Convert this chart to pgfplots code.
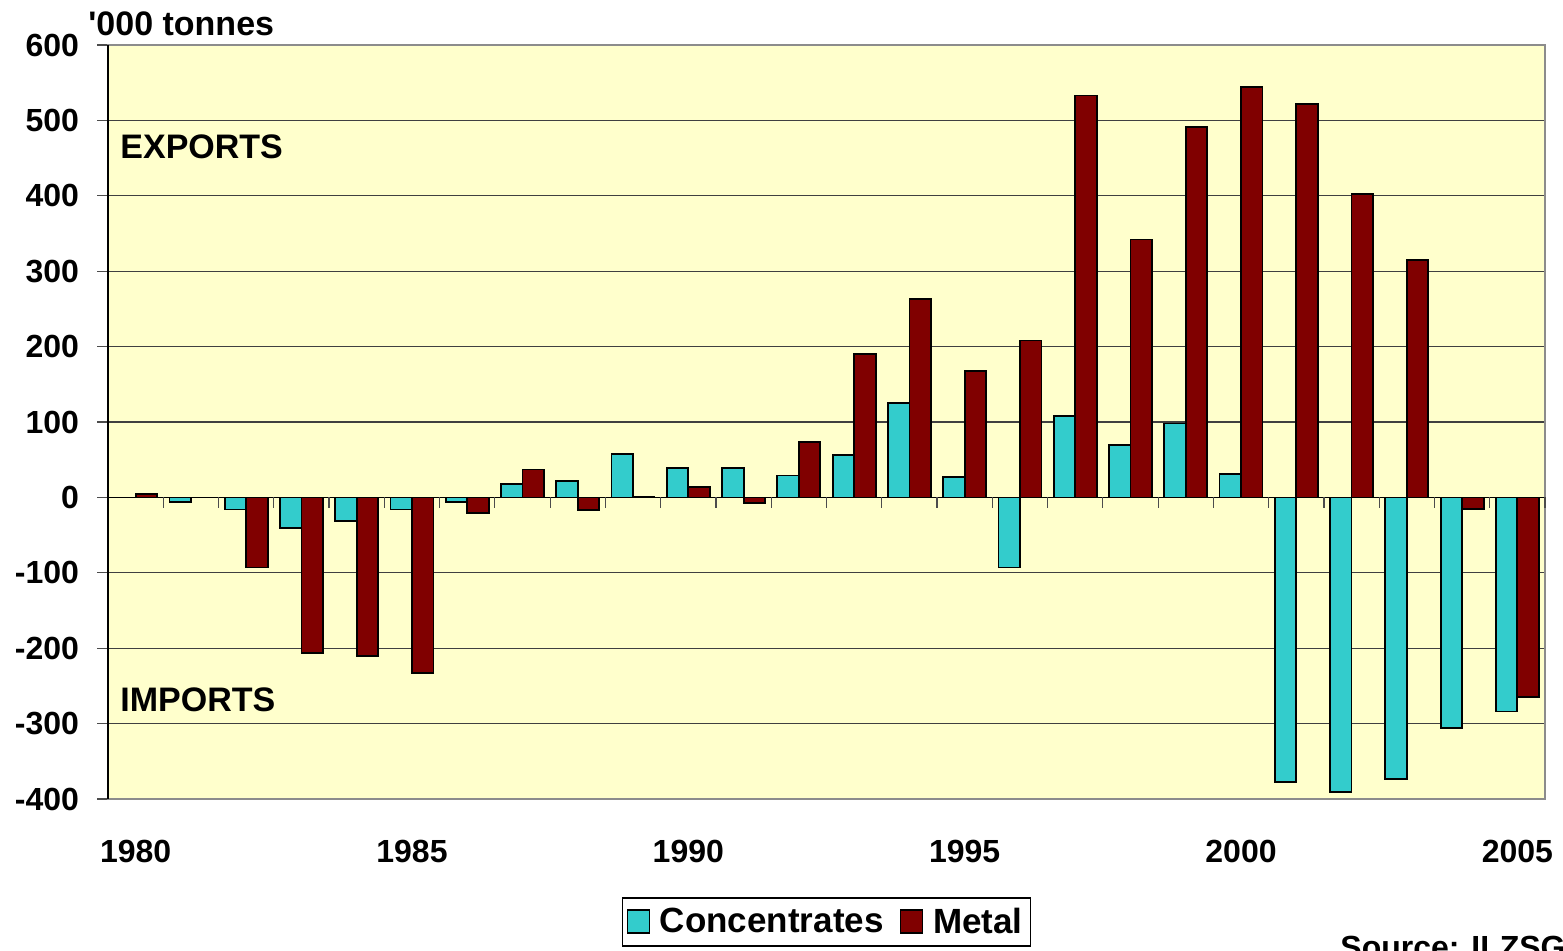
\documentclass[border=0pt]{standalone}
\usepackage{fontspec}
\setmainfont{Liberation Sans}
\usepackage{pgfplots}
\usepackage{pgfplotstable}
\pgfplotsset{compat=1.18}
\definecolor{conc}{HTML}{33CCCC}
\definecolor{metal}{HTML}{800000}
\definecolor{bg}{HTML}{FFFFCC}

\pgfplotstableread{
year conc metal
1980 0 4
1981 -6 0
1982 -16 -93
1983 -41 -206
1984 -31 -210
1985 -16 -233
1986 -6 -21
1987 18 37
1988 22 -17
1989 58 1
1990 39 14
1991 39 -7
1992 29 74
1993 56 190
1994 125 263
1995 27 168
1996 -93 208
1997 108 533
1998 69 342
1999 98 491
2000 31 544
2001 -377 522
2002 -391 402
2003 -373 315
2004 -306 -15
2005 -284 -265
}\datatable

\begin{document}
\begin{tikzpicture}
\useasboundingbox (-54pt,-75.5pt) rectangle (727.5pt,399.5pt);
\begin{axis}[
  at={(0,0)}, anchor=south west,
  scale only axis, width=718.5pt, height=377pt,
  xmin=1979.5, xmax=2005.5, ymin=-400, ymax=600,
  ybar=0pt, bar width=10.75pt,
  axis background/.style={fill=bg},
  xtick={1980,1985,...,2005},
  x tick label style={/pgf/number format/1000 sep=, yshift=-11.5pt},
  ytick={-400,-300,...,600},
  ytick pos=left,
  y tick label style={xshift=-5.5pt},
  ymajorgrids, grid style={black!75, line width=0.6pt},
  major x tick style={draw=none},
  tick style={black!70, line width=0.6pt},
  tick align=outside, major tick length=5.5pt,
  axis line style={black!45, line width=1pt},
  /pgf/number format/assume math mode=true,
  ticklabel style={font=\fontsize{16}{19}\selectfont\bfseries},
  legend style={at={(0.5,-0.13)}, anchor=north, legend columns=2,
    draw=black, line width=0.8pt, fill=white,
    font=\fontsize{17.5}{20}\selectfont\bfseries,
    inner xsep=2pt, inner ysep=3pt,
    /tikz/every even column/.append style={column sep=6pt}},
  legend image code/.code={\draw[#1, line width=0.8pt] (0pt,-5.5pt) rectangle (11pt,6pt);},
  clip=false,
]
\addplot[fill=conc, draw=black, line width=0.9pt] table[x=year, y=conc] {\datatable};
\addlegendentry{\,Concentrates}
\addplot[fill=metal, draw=black, line width=0.9pt] table[x=year, y=metal] {\datatable};
\addlegendentry{\,Metal}
\draw[black, line width=0.8pt] (axis cs:1979.5,0) -- (axis cs:2005.5,0);
\pgfplotsinvokeforeach{1980.5,1981.5,...,2005.5}{
  \draw[black!70, line width=0.6pt] (axis cs:#1,0) -- ([yshift=-5.5pt]axis cs:#1,0);
}
\draw[black, line width=0.8pt] (rel axis cs:0,0) -- (rel axis cs:0,1);
\end{axis}
\node[anchor=west, inner sep=0pt, font=\fontsize{17}{20}\selectfont\bfseries] at (-10pt,387.75pt) {\textquotesingle000 tonnes};
\node[anchor=west, inner sep=0pt, font=\fontsize{17}{20}\selectfont\bfseries] at (6pt,326.25pt) {EXPORTS};
\node[anchor=west, inner sep=0pt, font=\fontsize{17}{20}\selectfont\bfseries] at (6pt,49.5pt) {IMPORTS};
\node[anchor=north west, inner sep=0pt, font=\fontsize{16}{19}\selectfont\bfseries] at (616pt,-68.5pt) {Source: ILZSG};
\end{tikzpicture}
\end{document}
